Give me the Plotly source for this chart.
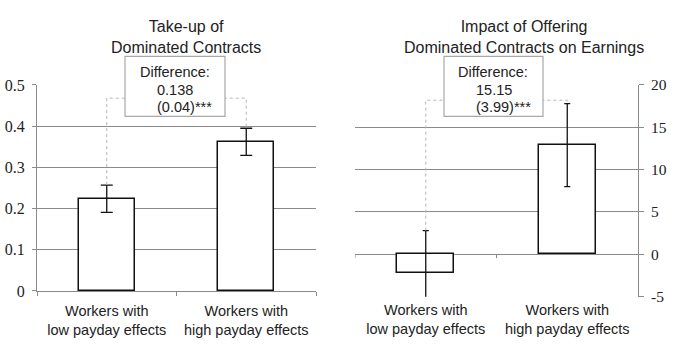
import plotly.graph_objects as go

categories = ["Workers with<br>low payday effects", "Workers with<br>high payday effects"]
takeup = [0.224, 0.362]
takeup_err = [0.033, 0.033]
earn = [-2.25, 12.9]
earn_err = [5.05, 4.9]
left_title = "Take-up of<br>Dominated Contracts"
right_title = "Impact of Offering<br>Dominated Contracts on Earnings"
left_diff = ["Difference:", "0.138", "(0.04)***"]
right_diff = ["Difference:", "15.15", "(3.99)***"]
left_ticks = [0, 0.1, 0.2, 0.3, 0.4, 0.5]
right_ticks = [-5, 0, 5, 10, 15, 20]
left_bracket = 0.468
right_bracket = 18.2

W, H = 675, 356
pos = [0, 1]
GRID = "#8a8a8a"
SANS = "Liberation Sans, Arial, sans-serif"
SERIF = "Liberation Serif, Times New Roman, serif"

fig = go.Figure()

# dotted brackets (drawn first, box covers the middle)
fig.add_trace(go.Scatter(
    x=[pos[0], pos[0], pos[1], pos[1]],
    y=[takeup[0] + takeup_err[0], left_bracket, left_bracket, takeup[1] + takeup_err[1]],
    mode="lines", line=dict(color="#b5b5b5", width=1, dash="dot"),
    xaxis="x", yaxis="y", hoverinfo="skip", showlegend=False))
fig.add_trace(go.Scatter(
    x=[pos[0], pos[0], pos[1], pos[1]],
    y=[earn[0] + earn_err[0], right_bracket, right_bracket, earn[1] + earn_err[1]],
    mode="lines", line=dict(color="#b5b5b5", width=1, dash="dot"),
    xaxis="x2", yaxis="y2", hoverinfo="skip", showlegend=False))

fig.add_trace(go.Bar(
    x=pos, y=takeup, width=0.4,
    marker=dict(color="white", line=dict(color="#111", width=1.5)),
    error_y=dict(type="data", array=takeup_err, color="#111", thickness=1.3, width=6),
    xaxis="x", yaxis="y", showlegend=False))
fig.add_trace(go.Bar(
    x=pos, y=earn, width=0.4,
    marker=dict(color="white", line=dict(color="#111", width=1.5)),
    error_y=dict(type="data", array=earn_err, color="#111", thickness=1.3, width=3),
    xaxis="x2", yaxis="y2", showlegend=False, cliponaxis=True))

fig.update_layout(
    width=W, height=H,
    margin=dict(l=0, r=0, t=0, b=0),
    paper_bgcolor="white", plot_bgcolor="white",
    bargap=0,
    xaxis=dict(domain=[37 / W, 316 / W], range=[-0.5, 1.5],
               tickvals=pos, ticktext=categories, ticks="",
               showgrid=False, zeroline=False,
               showline=True, linecolor=GRID, linewidth=1,
               minor=dict(tick0=-0.5, dtick=1, ticks="outside", ticklen=4, tickcolor=GRID, showgrid=False),
               tickfont=dict(family=SANS, size=14.5, color="#222"),
               ticklabelstandoff=7,
               fixedrange=True),
    yaxis=dict(domain=[1 - 297 / H, 1 - 80 / H], range=[0, 0.5],
               tickvals=left_ticks, ticktext=[f"{v:g}" for v in left_ticks],
               showgrid=True, gridcolor=GRID, gridwidth=1,
               zeroline=False, showline=True, linecolor=GRID, linewidth=1,
               ticks="outside", ticklen=4, tickcolor=GRID, ticklabelstandoff=4,
               tickfont=dict(family=SERIF, size=16, color="#222")),
    xaxis2=dict(domain=[355 / W, 638 / W], range=[-0.5, 1.5], anchor="y2",
                tickvals=pos, ticktext=categories, ticks="",
                showgrid=False, zeroline=False, showline=False,
                ticklabelstandoff=3,
                tickfont=dict(family=SANS, size=14.5, color="#222")),
    yaxis2=dict(domain=[1 - 303 / H, 1 - 80 / H], range=[-5, 20], anchor="x2", side="right",
                tickvals=right_ticks, ticktext=[f"{v:g}" for v in right_ticks],
                showgrid=True, gridcolor=GRID, gridwidth=1,
                zeroline=False, showline=True, linecolor=GRID, linewidth=1,
                ticks="outside", ticklen=5, tickcolor=GRID, ticklabelstandoff=4,
                tickfont=dict(family=SERIF, size=15.5, color="#222")),
)

# separator ticks on the zero line of the right chart
for sx in [-0.5, 0.5]:
    fig.add_shape(type="line", xref="x2", yref="y2", x0=sx, x1=sx, y0=0, y1=-0.45,
                  line=dict(color=GRID, width=1))

# titles
fig.add_annotation(text=left_title, xref="paper", yref="paper", x=186 / W, y=1 - 7 / H,
                   xanchor="center", yanchor="top", showarrow=False,
                   font=dict(family=SANS, size=16, color="#222"))
fig.add_annotation(text=right_title, xref="paper", yref="paper", x=524 / W, y=1 - 7 / H,
                   xanchor="center", yanchor="top", showarrow=False,
                   font=dict(family=SANS, size=16, color="#222"))

# difference boxes
def diff_box(x0, x1, lines, xl1, xl2):
    fig.add_shape(type="rect", xref="paper", yref="paper",
                  x0=x0 / W, x1=x1 / W, y0=1 - 113 / H, y1=1 - 50 / H,
                  line=dict(color="#a8a8a8", width=1.2), fillcolor="white", layer="above")
    ys = [66, 85, 103]
    xs = [xl1, xl2, xl2]
    for t, yy, xx in zip(lines, ys, xs):
        fig.add_annotation(text=t, xref="paper", yref="paper", x=xx / W, y=1 - yy / H,
                           xanchor="left", yanchor="middle", showarrow=False,
                           font=dict(family=SANS, size=14.5, color="#222"))

diff_box(125, 225, left_diff, 138, 155)
diff_box(444, 543, right_diff, 456, 474)

fig.write_html(
    "out.html",
    config={"displayModeBar": False},
    post_script="document.body.style.margin='0';document.body.style.overflow='hidden';",
)
